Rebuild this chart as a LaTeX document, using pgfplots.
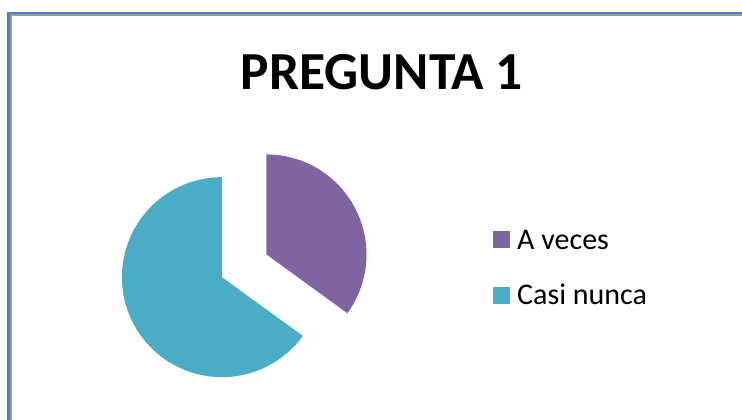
\documentclass[border=0pt]{standalone}
\usepackage{fontspec}
\setmainfont{Carlito}
\usepackage{pgfplots}
\pgfplotsset{compat=1.18}
\usepackage{pgfplotstable}

\definecolor{slicepurple}{HTML}{8064A2}
\definecolor{slicecyan}{HTML}{4BACC6}
\definecolor{frameblue}{HTML}{4F81BD}
\definecolor{frameshade}{HTML}{9A9A9A}

% share of answers, in percent
\pgfplotstableread{
answer value
veces 35
nunca 65
}\piedata

\pgfplotstablegetelem{0}{value}\of\piedata \let\va\pgfplotsretval
\pgfplotstablegetelem{1}{value}\of\piedata \let\vb\pgfplotsretval
\pgfmathsetmacro\aA{90-\va/(\va+\vb)*360}
\pgfmathsetmacro\aB{\aA-\vb/(\va+\vb)*360}
\pgfmathsetmacro\mA{(90+\aA)/2}
\pgfmathsetmacro\mB{(\aA+\aB)/2}
% centre, radius and explode offset, in pixels
\def\cx{244.2}\def\cy{265.8}\def\rr{100}\def\ex{25}
\pgfmathsetmacro\pxA{\cx+\ex*cos(\mA)}
\pgfmathsetmacro\pyA{\cy-\ex*sin(\mA)}
\pgfmathsetmacro\pxB{\cx+\ex*cos(\mB)}
\pgfmathsetmacro\pyB{\cy-\ex*sin(\mB)}

\begin{document}
\begin{tikzpicture}
\begin{axis}[
  at={(0,0)}, anchor=south west,
  scale only axis, width=742pt, height=420pt,
  xmin=0, xmax=742, ymin=0, ymax=420, y dir=reverse,
  hide axis,
  legend cell align=left,
  legend image code/.code={\path[#1,draw=none] (0pt,-8.5pt) rectangle (17pt,8.5pt);},
  legend style={at={(axis cs:493,230)}, anchor=north west,
    draw=none, fill=none, inner sep=0pt, row sep=36.5pt, column sep=7pt,
    font=\fontsize{30}{35}\selectfont,
    nodes={inner sep=0pt, text height=19pt, text depth=0pt}},
]
\fill[frameshade] (axis cs:10,420) rectangle (axis cs:11.7,14.3);
\fill[frameshade] (axis cs:10,14.3) rectangle (axis cs:742,16);
\fill[frameblue] (axis cs:7.3,420) rectangle (axis cs:10,11.7);
\fill[frameblue] (axis cs:7.3,11.7) rectangle (axis cs:742,14.3);

\addplot[fill=slicepurple, draw=none, domain=\aA:90, samples=90, variable=\t]
  ({\pxA+\rr*cos(\t)},{\pyA-\rr*sin(\t)}) -- (axis cs:\pxA,\pyA) -- cycle;
\addlegendentry{A veces}
\addplot[fill=slicecyan, draw=none, domain=\aB:\aA, samples=150, variable=\t]
  ({\pxB+\rr*cos(\t)},{\pyB-\rr*sin(\t)}) -- (axis cs:\pxB,\pyB) -- cycle;
\addlegendentry{Casi nunca}

\node[anchor=base, font=\fontsize{53.5}{60}\selectfont\bfseries] at (axis cs:382,89) {PREGUNTA 1};
\end{axis}
\pgfresetboundingbox
\useasboundingbox (0,0) rectangle (742pt,420pt);
\end{tikzpicture}
\end{document}
